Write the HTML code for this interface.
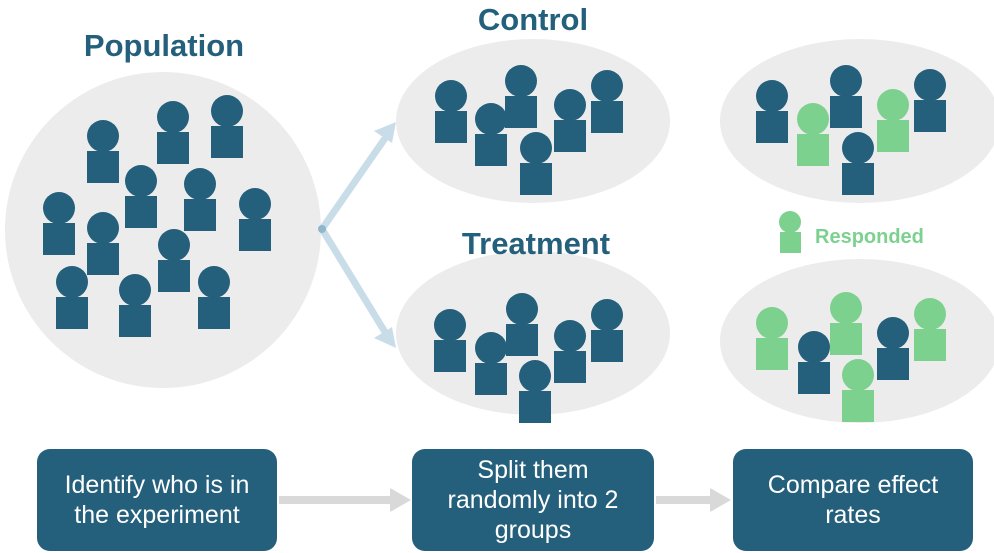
<!DOCTYPE html>
<html><head><style>
body{margin:0;width:994px;height:553px;background:#fff;overflow:hidden;font-family:"Liberation Sans",sans-serif}
.box{position:absolute;background:#245f7b;color:#fff;border-radius:13px;display:flex;align-items:center;justify-content:center;text-align:center;font-size:25px;line-height:30px}
</style></head><body>
<svg width="994" height="553" style="position:absolute;left:0;top:0">
<defs>
<g id="d"><circle cx="16" cy="-15" r="16" fill="#245f7b"/><rect x="0" y="0" width="32" height="32" fill="#245f7b"/></g>
<g id="g"><circle cx="16" cy="-15" r="16" fill="#7dd18f"/><rect x="0" y="0" width="32" height="32" fill="#7dd18f"/></g>
</defs>
<circle cx="163" cy="230" r="158" fill="#ececec"/>
<ellipse cx="533" cy="121" rx="137" ry="82" fill="#ececec"/>
<ellipse cx="533" cy="333" rx="137" ry="82" fill="#ececec"/>
<ellipse cx="860" cy="121" rx="140" ry="82" fill="#ececec"/>
<ellipse cx="860" cy="341" rx="140" ry="82" fill="#ececec"/>
<g stroke="#c9dde9" stroke-width="7" fill="none"><line x1="322" y1="229" x2="388" y2="134"/><line x1="322" y1="229" x2="388" y2="337"/></g>
<polygon points="396,122 374,131 392,143" fill="#c9dde9"/>
<polygon points="396,348 374,338 392,327" fill="#c9dde9"/>
<circle cx="322" cy="229" r="4" fill="#8fb6cc"/>
<g stroke="#d9d9d9" stroke-width="8"><line x1="279" y1="500" x2="395" y2="500"/><line x1="656" y1="500" x2="715" y2="500"/></g>
<polygon points="411,500 390,488 390,512" fill="#d9d9d9"/>
<polygon points="731,500 710,488 710,512" fill="#d9d9d9"/>
<use href="#d" x="87" y="151"/><use href="#d" x="157" y="132"/><use href="#d" x="211" y="126"/>
<use href="#d" x="125" y="196"/><use href="#d" x="184" y="199"/><use href="#d" x="43" y="223"/>
<use href="#d" x="87" y="243"/><use href="#d" x="239" y="219"/><use href="#d" x="158" y="260"/>
<use href="#d" x="56" y="297"/><use href="#d" x="119" y="305"/><use href="#d" x="198" y="297"/>
<use href="#d" x="435" y="111"/><use href="#d" x="475" y="134"/><use href="#d" x="505" y="96"/>
<use href="#d" x="554" y="120"/><use href="#d" x="591" y="101"/><use href="#d" x="520" y="163"/>
<use href="#d" x="434" y="340"/><use href="#d" x="475" y="363"/><use href="#d" x="506" y="324"/>
<use href="#d" x="554" y="351"/><use href="#d" x="591" y="330"/><use href="#d" x="519" y="391"/>
<use href="#d" x="756" y="111"/><use href="#g" x="797" y="134"/><use href="#d" x="830" y="96"/>
<use href="#g" x="877" y="120"/><use href="#d" x="914" y="100"/><use href="#d" x="842" y="163"/>
<use href="#g" x="756" y="338"/><use href="#d" x="798" y="362"/><use href="#g" x="830" y="323"/>
<use href="#d" x="877" y="348"/><use href="#g" x="914" y="329"/><use href="#g" x="842" y="390"/>
<circle cx="790" cy="222" r="11" fill="#7dd18f"/><rect x="780" y="232" width="21" height="21" fill="#7dd18f"/>
<g font-family="Liberation Sans,sans-serif" font-weight="bold" fill="#245f7b" font-size="31" text-anchor="middle">
<text x="164" y="56">Population</text><text x="533" y="30">Control</text><text x="536" y="254">Treatment</text></g>
<text x="815" y="243" font-family="Liberation Sans,sans-serif" font-weight="bold" fill="#7dd18f" font-size="20">Responded</text>
</svg>
<div class="box" style="left:37px;top:449px;width:240px;height:102px">Identify who is in<br>the experiment</div>
<div class="box" style="left:412px;top:449px;width:242px;height:102px">Split them<br>randomly into 2<br>groups</div>
<div class="box" style="left:733px;top:449px;width:240px;height:102px">Compare effect<br>rates</div>
</body></html>
